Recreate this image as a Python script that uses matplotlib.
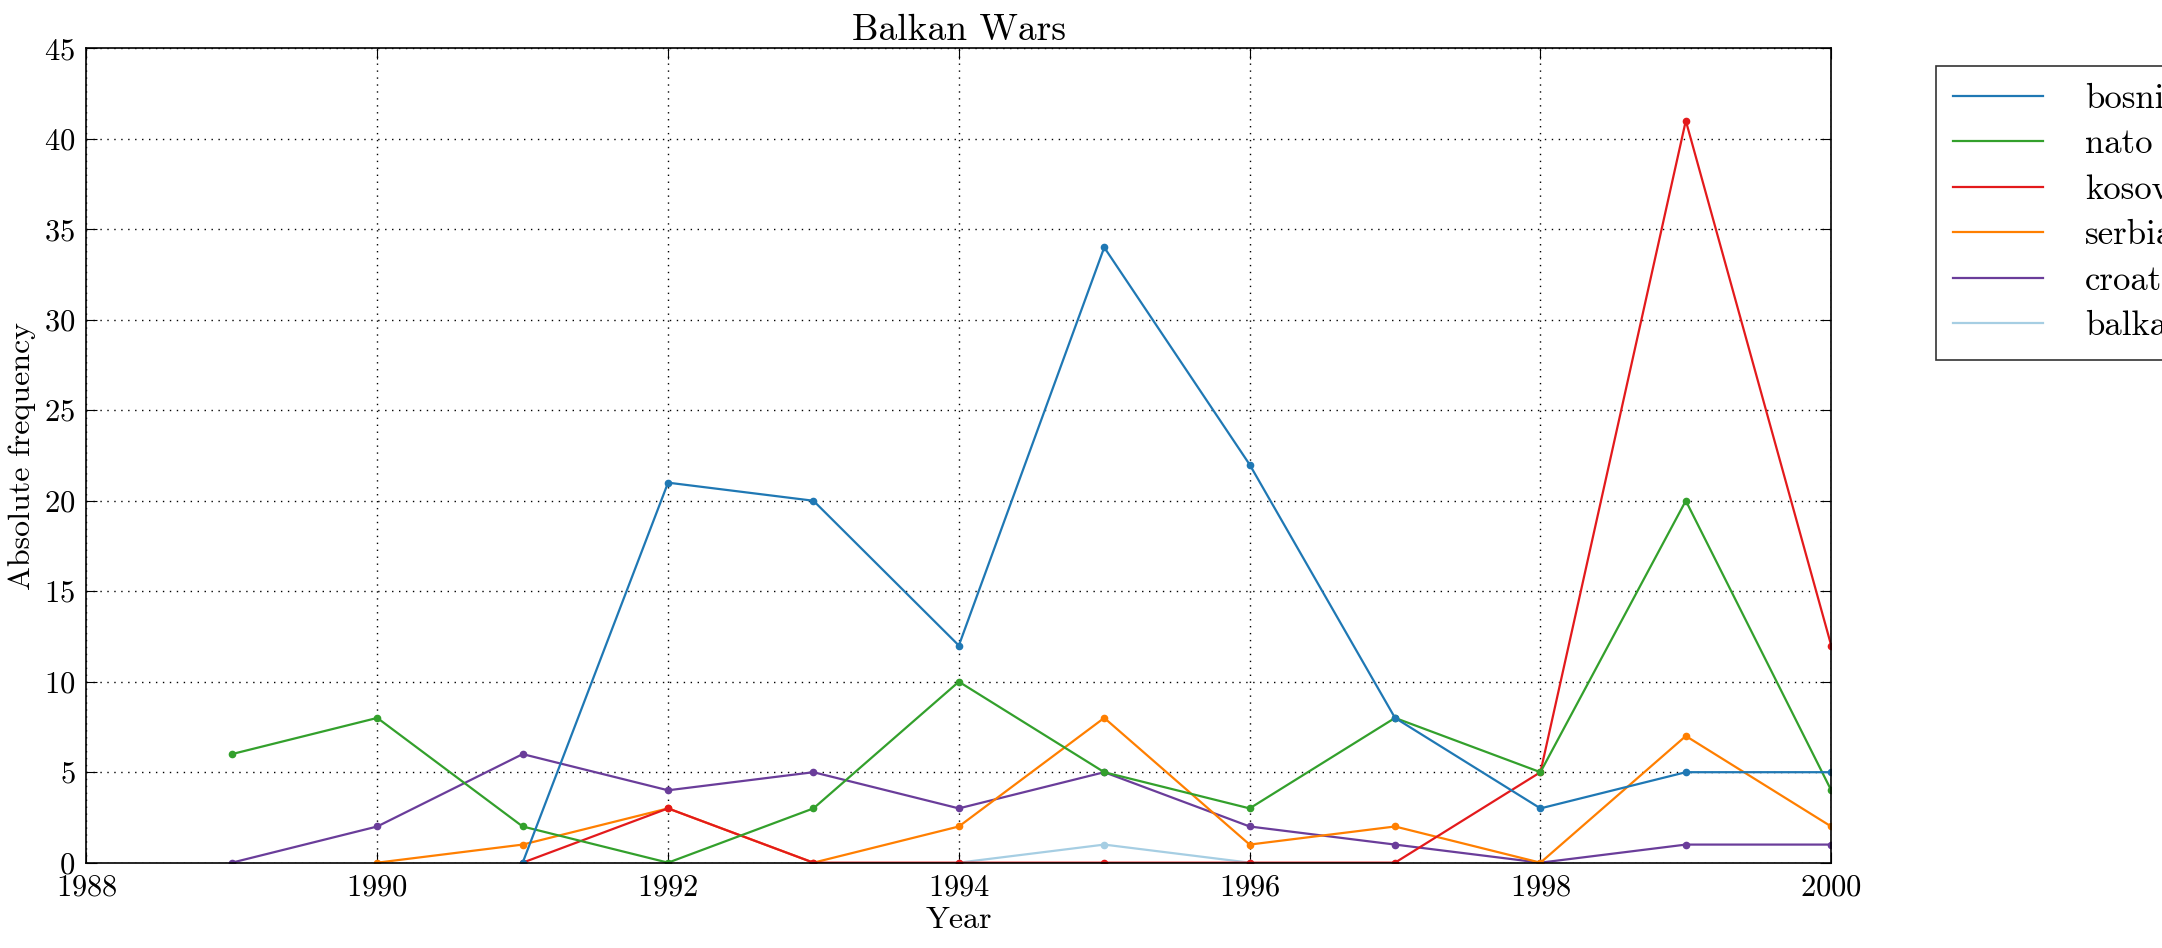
import matplotlib
matplotlib.use("Agg")
import matplotlib.pyplot as plt
import numpy as np

plt.rcParams["font.family"] = "serif"
plt.rcParams["font.serif"] = ["cmr10"]
plt.rcParams["mathtext.fontset"] = "cm"
plt.rcParams["axes.formatter.use_mathtext"] = True

years_bosnia = [1991, 1992, 1993, 1994, 1995, 1996, 1997, 1998, 1999, 2000]
bosnia = [0, 21, 20, 12, 34, 22, 8, 3, 5, 5]
years_nato = list(range(1989, 2001))
nato = [6, 8, 2, 0, 3, 10, 5, 3, 8, 5, 20, 4]
years_kosovo = list(range(1991, 2001))
kosovo = [0, 3, 0, 0, 0, 0, 0, 5, 41, 12]
years_serbia = list(range(1990, 2001))
serbia = [0, 1, 3, 0, 2, 8, 1, 2, 0, 7, 2]
years_croatia = list(range(1989, 2001))
croatia = [0, 2, 6, 4, 5, 3, 5, 2, 1, 0, 1, 1]
years_balkan = [1994, 1995, 1996]
balkan = [0, 1, 0]

series = [("bosnia", years_bosnia, bosnia, "#1f78b4"),
          ("nato", years_nato, nato, "#33a02c"),
          ("kosovo", years_kosovo, kosovo, "#e31a1c"),
          ("serbia", years_serbia, serbia, "#ff7f00"),
          ("croatia", years_croatia, croatia, "#6a3d9a"),
          ("balkan", years_balkan, balkan, "#a6cee3")]

fig = plt.figure(figsize=(21.62, 9.48), dpi=100)
ax = fig.add_axes([0.040, 0.09, 0.807, 0.859])
for name, x, y, c in reversed(series):
    ax.plot(x, y, "-o", color=c, lw=1.6, ms=4.5, mec=c, label=name)
leg = ax.legend([plt.Line2D([], [], color=c, lw=1.6) for _, _, _, c in series],
                [s[0] for s in series], loc="upper left", bbox_to_anchor=(1.05, 1.0),
                fontsize=25, fancybox=False, edgecolor="black", borderpad=0.5,
                labelspacing=0.4, handlelength=2.6, handletextpad=1.2)
leg.get_frame().set_linewidth(1.2)
ax.set_xlim(1988, 2000)
ax.set_ylim(0, 45)
ax.set_xticks(np.arange(1988, 2001, 2))
ax.set_yticks(np.arange(0, 46, 5))
ax.grid(True, color="black", linestyle=(0, (1, 4)), lw=1)
ax.tick_params(labelsize=22, direction="in", length=8, top=True, right=True, pad=8)
ax.set_xlabel("Year", fontsize=23, labelpad=4)
ax.set_ylabel("Absolute frequency", fontsize=23, labelpad=6)
ax.set_title("Balkan Wars", fontsize=27)
for s in ax.spines.values():
    s.set_linewidth(1.2)
fig.savefig("out.png", dpi=100)
